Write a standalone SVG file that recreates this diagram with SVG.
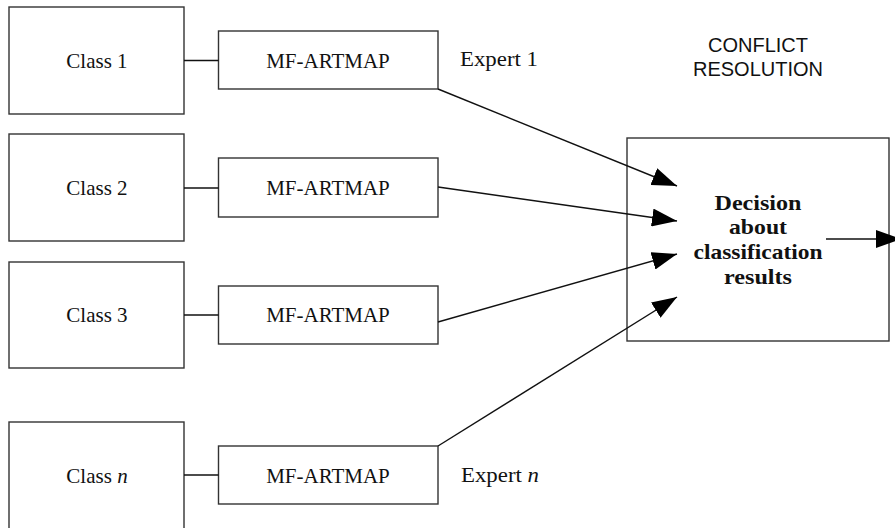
<svg xmlns="http://www.w3.org/2000/svg" width="895" height="528" viewBox="0 0 895 528">
  <style>
    .box { fill: #ffffff; stroke: #333333; stroke-width: 1.4; }
    .link { fill: none; stroke: #111111; stroke-width: 1.4; }
    .arrow { fill: none; stroke: #111111; stroke-width: 1.4; marker-end: url(#head); }
    .lbl { font-family: "Liberation Serif", "Times New Roman", serif; font-size: 21px; fill: #111111; text-anchor: middle; }
    .exp { font-family: "Liberation Serif", "Times New Roman", serif; font-size: 21px; fill: #111111; }
    .bold { font-family: "Liberation Serif", "Times New Roman", serif; font-size: 21px; font-weight: bold; fill: #111111; text-anchor: middle; }
    .title { font-family: "Liberation Sans", Arial, sans-serif; font-size: 20px; fill: #111111; text-anchor: middle; }
    .it { font-style: italic; }
  </style>
  <defs>
    <marker id="head" viewBox="0 0 25 18" refX="25" refY="9" markerWidth="25" markerHeight="18" markerUnits="userSpaceOnUse" orient="auto">
      <path d="M0,0 L25,9 L0,18 Z" fill="#000000"/>
    </marker>
  </defs>

  <!-- class inputs -->
  <g id="class1">
    <rect class="box" x="9" y="7" width="175" height="107"/>
    <text class="lbl" x="97" y="68">Class 1</text>
  </g>
  <g id="class2">
    <rect class="box" x="9" y="134" width="175" height="107"/>
    <text class="lbl" x="97" y="195">Class 2</text>
  </g>
  <g id="class3">
    <rect class="box" x="9" y="262" width="175" height="106"/>
    <text class="lbl" x="97" y="322">Class 3</text>
  </g>
  <g id="classn">
    <rect class="box" x="9" y="422" width="175" height="110"/>
    <text class="lbl" x="97" y="483">Class <tspan class="it">n</tspan></text>
  </g>

  <!-- experts -->
  <g id="expert1">
    <rect class="box" x="218.5" y="31" width="219.5" height="58"/>
    <text class="lbl" x="328" y="68">MF-ARTMAP</text>
    <text class="exp" x="460" y="66" textLength="78" lengthAdjust="spacingAndGlyphs">Expert 1</text>
  </g>
  <g id="expert2">
    <rect class="box" x="218.5" y="158" width="219.5" height="59"/>
    <text class="lbl" x="328" y="195">MF-ARTMAP</text>
  </g>
  <g id="expert3">
    <rect class="box" x="218.5" y="286" width="219.5" height="58"/>
    <text class="lbl" x="328" y="322">MF-ARTMAP</text>
  </g>
  <g id="expertn">
    <rect class="box" x="218.5" y="446" width="219.5" height="58"/>
    <text class="lbl" x="328" y="483">MF-ARTMAP</text>
    <text class="exp" x="461" y="482" textLength="78" lengthAdjust="spacingAndGlyphs">Expert <tspan class="it">n</tspan></text>
  </g>

  <!-- conflict resolution -->
  <g id="resolution">
    <text class="title" x="758" y="52">CONFLICT</text>
    <text class="title" x="758" y="76">RESOLUTION</text>
    <rect class="box" x="627" y="138" width="262" height="203"/>
    <text class="bold" x="758" y="210" textLength="87" lengthAdjust="spacingAndGlyphs">Decision</text>
    <text class="bold" x="758" y="234" textLength="58" lengthAdjust="spacingAndGlyphs">about</text>
    <text class="bold" x="758" y="259" textLength="129" lengthAdjust="spacingAndGlyphs">classification</text>
    <text class="bold" x="758" y="284" textLength="68" lengthAdjust="spacingAndGlyphs">results</text>
  </g>

  <!-- connectors -->
  <g id="connectors">
    <line class="link" x1="184" y1="60.5" x2="218.5" y2="60.5"/>
    <line class="link" x1="184" y1="188" x2="218.5" y2="188"/>
    <line class="link" x1="184" y1="315" x2="218.5" y2="315"/>
    <line class="link" x1="184" y1="475" x2="218.5" y2="475"/>
    <line class="arrow" x1="438" y1="89" x2="677" y2="186"/>
    <line class="arrow" x1="438" y1="187" x2="677" y2="221"/>
    <line class="arrow" x1="438" y1="322" x2="677" y2="254"/>
    <line class="arrow" x1="438" y1="446" x2="677" y2="297"/>
    <line class="arrow" x1="826" y1="239" x2="901" y2="239"/>
  </g>
</svg>
